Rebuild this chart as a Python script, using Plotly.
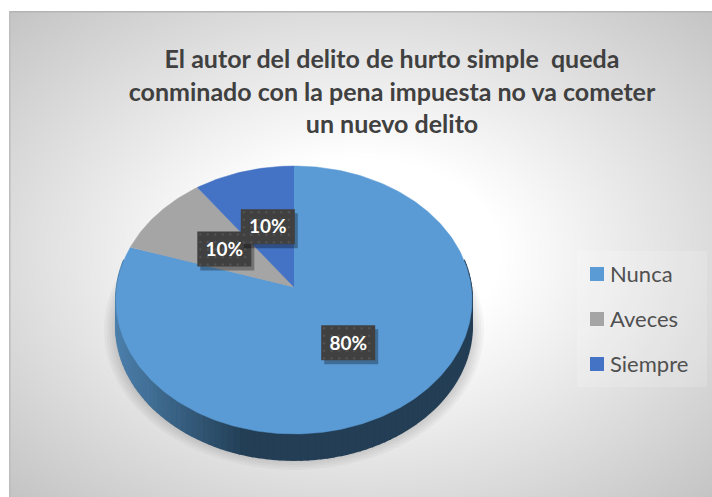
import numpy as np
import plotly.graph_objects as go

categories = ["Nunca", "Aveces", "Siempre"]
values = [80, 10, 10]
colors = ["#5B9BD5", "#A5A5A5", "#4472C4"]
title_lines = ["El autor del delito de hurto simple\u00a0 queda",
               "conminado con la pena impuesta no va cometer",
               "un nuevo delito"]

W, H = 712, 497
LEFT, TOP = 9, 11

# the pie is tilted, so the circle goes through a small perspective
APEX_X, APEX_Y = 294, 287
AX, BY, PERSP = 177.2, 132.7, 0.097
DEPTH = 26


def project(theta, f=1.0):
    t = np.radians(theta)
    w = 1 + PERSP * f * np.cos(t)
    return APEX_X + AX * f * np.sin(t) / w, APEX_Y - BY * f * np.cos(t) / w


def mix(c1, c2, t):
    return "rgb(%d,%d,%d)" % tuple(a + (b - a) * t for a, b in zip(c1, c2))


fig = go.Figure()
shapes = []

# background, radial grey to white
for level in range(196, 256):
    t = 1 - 0.72 * (level - 196) / 59
    rx, ry = 500 * t, 345 * t
    shapes.append(dict(type="circle", layer="below", xref="x", yref="y",
                       x0=362 - rx, x1=362 + rx, y0=254 - ry, y1=254 + ry,
                       fillcolor="rgb(%d,%d,%d)" % (level, level, level), line_width=0))

# top and left edge of the chart area
shapes.append(dict(type="rect", layer="below", xref="x", yref="y", x0=LEFT, x1=W, y0=TOP, y1=TOP + 1.5,
                   fillcolor="#b4b4b4", line_width=0))
shapes.append(dict(type="rect", layer="below", xref="x", yref="y", x0=LEFT, x1=LEFT + 1.5, y0=TOP, y1=H,
                   fillcolor="#bcbcbc", line_width=0))

# legend box
shapes.append(dict(type="rect", layer="below", xref="x", yref="y", x0=577, x1=707, y0=251, y1=387,
                   fillcolor="rgba(255,255,255,0.16)", line_width=0))

# soft shadow under the pie
for i in range(10):
    rx, ry = 190 - i * 2.5, 140 - i * 2.5
    shapes.append(dict(type="circle", layer="below", xref="x", yref="y",
                       x0=APEX_X - rx, x1=APEX_X + rx, y0=330 - ry, y1=330 + ry,
                       fillcolor="rgba(0,0,0,0.032)", line_width=0))

# side wall of the pie
wall_angles = np.arange(78, 283, 2)
for a0, a1 in zip(wall_angles[:-1], wall_angles[1:]):
    x0, y0 = project(a0)
    x1, y1 = project(a1)
    shade = min(1, max(0, ((x0 + x1) / 2 - 116) / 130))
    col = mix((76, 128, 172), (35, 62, 85), shade)
    fig.add_trace(go.Scatter(x=[x0, x1, x1, x0], y=[y0, y1, y1 + DEPTH, y0 + DEPTH],
                             mode="lines", fill="toself", fillcolor=col, line=dict(color=col, width=2),
                             hoverinfo="skip", showlegend=False))

# slices, clockwise from 12 o'clock
total = sum(values)
start = 0
mids = []
for name, val, col in zip(categories, values, colors):
    end = start + 360 * val / total
    angles = np.linspace(start, end, int(end - start) + 2)
    rim_x, rim_y = project(angles)
    fig.add_trace(go.Scatter(x=[APEX_X] + list(rim_x), y=[APEX_Y] + list(rim_y),
                             mode="lines", fill="toself", fillcolor=col, line=dict(color=col, width=0.5),
                             name=name, hoverinfo="name", showlegend=False))
    mids.append((start + end) / 2)
    start = end

# data labels: shadow, dark box with dots, white text
BOX_W, BOX_H = 54, 35
for i in range(len(values)):
    cx, cy = project(mids[i], 0.5)
    sx, sy = cx + 3, cy + 4
    fig.add_trace(go.Scatter(x=[sx - BOX_W / 2, sx + BOX_W / 2, sx + BOX_W / 2, sx - BOX_W / 2],
                             y=[sy - BOX_H / 2, sy - BOX_H / 2, sy + BOX_H / 2, sy + BOX_H / 2],
                             mode="lines", fill="toself", fillcolor="rgba(0,0,0,0.3)", line_width=0,
                             hoverinfo="skip", showlegend=False))
    fig.add_trace(go.Scatter(x=[cx - BOX_W / 2, cx + BOX_W / 2, cx + BOX_W / 2, cx - BOX_W / 2],
                             y=[cy - BOX_H / 2, cy - BOX_H / 2, cy + BOX_H / 2, cy + BOX_H / 2],
                             mode="lines", fill="toself", fillcolor="#404040", line_width=0,
                             hoverinfo="skip", showlegend=False))
    dots_x, dots_y = np.meshgrid(np.arange(cx - BOX_W / 2 + 3, cx + BOX_W / 2, 7.5),
                                 np.arange(cy - BOX_H / 2 + 3, cy + BOX_H / 2, 7.5))
    fig.add_trace(go.Scatter(x=dots_x.ravel(), y=dots_y.ravel(), mode="markers",
                             marker=dict(size=2.5, color="#525252"),
                             hoverinfo="skip", showlegend=False))
    fig.add_trace(go.Scatter(x=[cx], y=[cy + 2], mode="text", text=["%d%%" % round(100 * values[i] / total)],
                             textposition="middle center",
                             textfont=dict(family="Lato", size=19, color="white", weight="bold"),
                             hoverinfo="skip", showlegend=False))

# legend drawn on the axes so the row spacing can follow the original
legend_rows = [274, 319, 364]
for name, col, row in zip(categories, colors, legend_rows):
    fig.add_trace(go.Scatter(x=[597], y=[row], mode="markers",
                             marker=dict(symbol="square", size=14, color=col),
                             hoverinfo="skip", showlegend=False))
    fig.add_trace(go.Scatter(x=[610], y=[row + 2], mode="text", text=[name],
                             textposition="middle right",
                             textfont=dict(family="Lato", size=22, color="#505050"),
                             hoverinfo="skip", showlegend=False))

fig.update_layout(
    width=W, height=H,
    margin=dict(l=LEFT, r=0, t=TOP, b=0, autoexpand=False),
    paper_bgcolor="white",
    plot_bgcolor="rgba(0,0,0,0)",
    shapes=shapes,
    showlegend=False,
    title=dict(text="<br>".join(title_lines), x=392 / W, xanchor="center", xref="container",
               y=1 - 68 / H, yanchor="middle", yref="container",
               font=dict(family="Lato", size=25, color="#404040", weight="bold")),
    xaxis=dict(range=[LEFT, W], visible=False, fixedrange=True),
    yaxis=dict(range=[H, TOP], visible=False, fixedrange=True),
)

fig.write_html("out.html", config={"displayModeBar": False}, post_script="document.body.style.margin='0';")
